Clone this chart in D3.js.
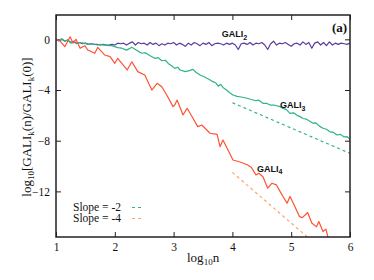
<!DOCTYPE html>
<html>
<head>
<meta charset="utf-8">
<script src="https://cdn.jsdelivr.net/npm/d3@7"></script>
<style>
  body { margin: 0; background: #fff; }
  svg { display: block; }
  .serif { font-family: "Liberation Serif", "DejaVu Serif", serif; }
  .sans { font-family: "Liberation Sans", "DejaVu Sans", sans-serif; }
</style>
</head>
<body>
<div id="chart"></div>
<script>
// Data (log10 n on x, log10 ratio on y)
const gali2X = [1.0,1.05,1.1,1.15,1.2,1.25,1.3,1.35,1.4,1.45,1.5,1.55,1.6,1.65,1.7,1.75,1.8,1.85,1.9,1.95,
  2.0,2.05,2.1,2.15,2.2,2.25,2.3,2.35,2.4,2.45,2.5,2.55,2.6,2.65,2.7,2.75,2.8,2.85,2.9,2.95,
  3.0,3.05,3.1,3.15,3.2,3.25,3.3,3.35,3.4,3.45,3.5,3.55,3.6,3.65,3.7,3.75,3.8,3.85,3.9,3.95,
  4.0,4.05,4.1,4.15,4.2,4.25,4.3,4.35,4.4,4.45,4.5,4.55,4.6,4.65,4.7,4.75,4.8,4.85,4.9,4.95,
  5.0,5.05,5.1,5.15,5.2,5.25,5.3,5.35,5.4,5.45,5.5,5.55,5.6,5.65,5.7,5.75,5.8,5.85,5.9,5.95,6.0];
const gali2Y = [0,-0.1,0.0,-0.15,-0.05,-0.25,-0.15,-0.3,-0.25,-0.35,-0.3,-0.4,-0.35,-0.4,-0.4,-0.45,-0.4,-0.45,-0.45,-0.4,
  -0.45,-0.3,-0.35,-0.3,-0.45,-0.3,-0.2,-0.45,-0.25,-0.35,-0.3,-0.45,-0.25,-0.4,-0.3,-0.5,-0.35,-0.45,-0.3,-0.35,
  -0.25,-0.45,-0.3,-0.4,-0.55,-0.3,-0.45,-0.25,-0.35,-0.5,-0.3,-0.4,-0.25,-0.5,-0.35,-0.3,-0.35,-0.45,-0.3,-0.4,
  -0.3,-0.45,-0.8,-0.35,-0.3,-0.4,-0.25,-0.45,-0.3,-0.35,-0.25,-0.45,-0.8,-0.35,-0.15,-0.45,-0.3,-0.35,-0.25,-0.4,
  -0.55,-0.35,-0.3,-0.45,-0.2,-0.4,-0.25,-0.7,-0.3,-0.2,-0.45,-0.25,-0.5,-0.2,-0.45,-0.3,-0.4,-0.3,-0.35,-0.4,-0.3];

const gali3X = [1.0,1.05,1.1,1.15,1.2,1.25,1.3,1.35,1.4,1.49,1.55,1.6,1.7,1.75,1.83,1.9,1.95,2.05,2.12,2.2,
  2.29,2.35,2.4,2.46,2.52,2.6,2.68,2.74,2.8,2.86,2.92,2.97,3.02,3.07,3.11,3.2,3.28,3.33,3.38,3.45,
  3.52,3.6,3.67,3.72,3.76,3.8,3.84,3.9,3.95,4.01,4.08,4.15,4.25,4.32,4.4,4.45,4.52,4.58,4.65,4.72,
  4.81,4.86,4.92,4.98,5.04,5.1,5.15,5.2,5.26,5.31,5.37,5.42,5.48,5.54,5.6,5.66,5.72,5.78,5.84,5.9,5.95,6.0];
const gali3Y = [0,-0.1,0.05,-0.15,-0.05,-0.3,-0.2,-0.35,-0.25,-0.32,-0.4,-0.35,-0.45,-0.4,-0.45,-0.5,-0.5,-0.65,-0.7,-0.85,
  -0.63,-0.8,-0.95,-1.1,-1.05,-1.3,-1.5,-1.45,-1.69,-1.65,-1.95,-2.1,-2.29,-2.2,-2.42,-2.55,-2.45,-2.37,-2.6,-2.82,
  -2.95,-3.15,-3.34,-3.45,-3.7,-3.55,-3.8,-4.0,-4.2,-4.39,-4.5,-4.55,-4.65,-4.75,-4.85,-4.8,-5.05,-5.05,-5.2,-5.2,
  -5.31,-5.45,-5.55,-5.84,-5.8,-6.0,-6.1,-6.25,-6.3,-6.45,-6.62,-6.6,-6.85,-7.02,-7.1,-7.3,-7.35,-7.55,-7.5,-7.7,-7.68,-7.9];

const gali4X = [1.0,1.07,1.15,1.24,1.29,1.34,1.41,1.49,1.54,1.66,1.71,1.83,1.92,2.0,2.05,2.21,2.29,2.39,2.51,2.63,
  2.72,2.8,2.9,2.99,3.02,3.06,3.16,3.23,3.33,3.41,3.48,3.62,3.74,3.79,3.84,4.01,4.13,4.25,4.32,4.4,
  4.45,4.52,4.6,4.67,4.75,4.81,4.86,4.93,4.98,5.05,5.14,5.19,5.28,5.35,5.43,5.47,5.54,5.59,5.63];
const gali4Y = [0,-0.15,-0.58,0.2,-0.3,0.0,-0.71,-0.5,-0.84,-1.1,-0.63,-1.24,-1.37,-1.89,-1.5,-2.42,-1.77,-2.55,-2.82,-4.0,
  -3.47,-3.74,-4.53,-5.31,-5.18,-4.79,-5.97,-5.44,-6.23,-6.89,-6.76,-7.41,-7.5,-8.47,-7.94,-9.52,-9.68,-9.9,-10.1,-10.7,
  -10.57,-10.84,-11.75,-11.36,-11.49,-12.0,-12.4,-12.93,-12.4,-13.07,-13.99,-14.07,-13.67,-14.5,-14.8,-14.38,-15.17,-14.98,-15.7];

// reference slopes: [start, end] points
const slope2X = [4.0, 6.0], slope2Y = [-5.0, -9.0];
const slope4X = [4.0, 5.3], slope4Y = [-10.5, -15.7];

const xTicks = [1, 2, 3, 4, 5, 6];
const yTicks = [0, -4, -8, -12];

const purple = "#5b3d9c", green = "#2fb387", red = "#ff5233", orange = "#ffa466";

// Set up the SVG
const width = 374, height = 280;
const margin = { top: 15, right: 24, bottom: 43, left: 56 };
const iw = width - margin.left - margin.right;
const ih = height - margin.top - margin.bottom;

const svg = d3.select("#chart").append("svg")
    .attr("width", width)
    .attr("height", height);

const g = svg.append("g")
    .attr("transform", `translate(${margin.left},${margin.top})`);

// Scales
const x = d3.scaleLinear().domain([1, 6]).range([0, iw]);
const y = d3.scaleLinear().domain([-15.6, 1.92]).range([ih, 0]);

g.append("clipPath").attr("id", "clip")
  .append("rect").attr("width", iw).attr("height", ih);

// Axes, ticks inward on all four sides
const styleAxis = sel => {
  sel.attr("font-family", null).attr("font-size", null);
  sel.select(".domain").remove();
  sel.selectAll("line").attr("stroke", "#222").attr("stroke-width", 1);
  sel.selectAll("text").attr("class", "serif").style("font-size", "11.5px").attr("fill", "#111");
};

g.append("g").attr("transform", `translate(0,${ih})`)
  .call(d3.axisBottom(x).tickValues(xTicks).tickSize(-5).tickPadding(6).tickFormat(d3.format("d")))
  .call(styleAxis);
g.append("g")
  .call(d3.axisTop(x).tickValues(xTicks).tickSize(-5).tickFormat(""))
  .call(styleAxis);
g.append("g")
  .call(d3.axisLeft(y).tickValues(yTicks).tickSize(-5).tickPadding(6).tickFormat(d3.format("d")))
  .call(styleAxis);
g.append("g").attr("transform", `translate(${iw},0)`)
  .call(d3.axisRight(y).tickValues(yTicks).tickSize(-5).tickFormat(""))
  .call(styleAxis);

// Lines
const line = d3.line().x(d => x(d[0])).y(d => y(d[1]));
const plot = g.append("g").attr("clip-path", "url(#clip)");

const series = [
  { xs: gali2X, ys: gali2Y, color: purple },
  { xs: gali3X, ys: gali3Y, color: green },
  { xs: gali4X, ys: gali4Y, color: red }
];
series.forEach(s => {
  plot.append("path")
    .datum(s.xs.map((v, i) => [v, s.ys[i]]))
    .attr("d", line)
    .attr("fill", "none")
    .attr("stroke", s.color)
    .attr("stroke-width", 1.2)
    .attr("stroke-linejoin", "round");
});

[[slope2X, slope2Y, green], [slope4X, slope4Y, orange]].forEach(([xs, ys, c]) => {
  plot.append("path")
    .datum(xs.map((v, i) => [v, ys[i]]))
    .attr("d", line)
    .attr("fill", "none")
    .attr("stroke", c)
    .attr("stroke-width", 1.2)
    .attr("stroke-dasharray", "3,3");
});

// Frame
g.append("rect").attr("width", iw).attr("height", ih)
  .attr("fill", "none").attr("stroke", "#222").attr("stroke-width", 1.5);

// Curve labels
const labels = [["GALI", "2", 3.82, 0.15], ["GALI", "3", 4.81, -5.42], ["GALI", "4", 4.42, -10.44]];
labels.forEach(([t, sub, lx, ly]) => {
  const tx = g.append("text")
    .attr("class", "sans")
    .attr("x", x(lx)).attr("y", y(ly))
    .attr("font-weight", "bold").style("font-size", "9px").attr("fill", "#111");
  tx.append("tspan").text(t);
  tx.append("tspan").attr("dy", 2.5).style("font-size", "7px").text(sub);
});

g.append("text")
  .attr("class", "serif")
  .attr("x", x(5.95)).attr("y", y(0.6))
  .attr("text-anchor", "end")
  .attr("font-weight", "bold").style("font-size", "13px")
  .attr("fill", "#111")
  .text("(a)");

// Legend
const legend = [["Slope = -2", green], ["Slope = -4", orange]];
legend.forEach(([t, c], i) => {
  const ly = 196 + i * 11;
  g.append("text")
    .attr("class", "serif")
    .attr("x", 17).attr("y", ly)
    .style("font-size", "11.5px").attr("fill", "#111")
    .text(t);
  g.append("line")
    .attr("x1", 76).attr("x2", 86).attr("y1", ly - 3.5).attr("y2", ly - 3.5)
    .attr("stroke", c).attr("stroke-width", 1).attr("stroke-dasharray", "3,3");
});

// Axis titles
const xt = svg.append("text")
  .attr("class", "serif")
  .attr("x", 187).attr("y", 262)
  .style("font-size", "13px").attr("fill", "#111");
xt.append("tspan").text("log");
xt.append("tspan").attr("dy", 3).style("font-size", "9px").text("10");
xt.append("tspan").attr("dy", -3).text("n");

const yt = svg.append("text")
  .attr("class", "serif")
  .attr("transform", "translate(31,127) rotate(-90)")
  .attr("text-anchor", "middle")
  .style("font-size", "13px").attr("fill", "#111");
yt.append("tspan").text("log");
yt.append("tspan").attr("dy", 3).style("font-size", "9px").text("10");
yt.append("tspan").attr("dy", -3).text("[GALI");
yt.append("tspan").attr("dy", 3).style("font-size", "9px").text("k");
yt.append("tspan").attr("dy", -3).text("(n)/GALI");
yt.append("tspan").attr("dy", 3).style("font-size", "9px").text("k");
yt.append("tspan").attr("dy", -3).text("(0)]");
</script>
</body>
</html>
